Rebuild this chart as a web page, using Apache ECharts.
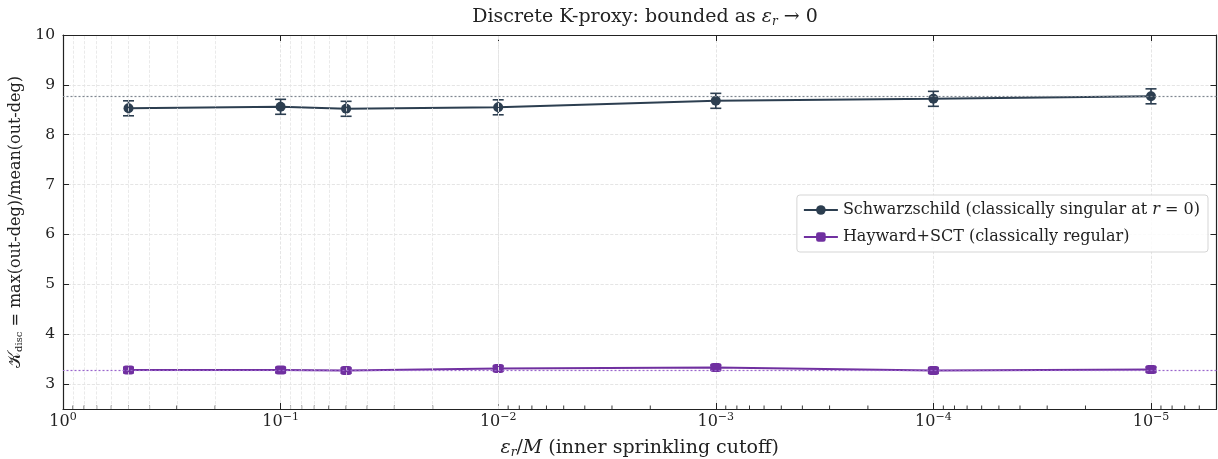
<!DOCTYPE html>
<html>
<head>
<meta charset="utf-8">
<script src="https://cdn.jsdelivr.net/npm/echarts@6/dist/echarts.min.js"></script>
<style>html,body{margin:0;padding:0;background:#fff;}#c{width:1218px;height:459px;}</style>
</head>
<body>
<div id="c"></div>
<script>
// ---- data ----
const epsValues = [0.5, 0.1, 0.05, 0.01, 0.001, 0.0001, 0.00001];
const schwMean = [8.53, 8.56, 8.52, 8.55, 8.68, 8.72, 8.77];
const schwErr  = [0.15, 0.15, 0.15, 0.15, 0.15, 0.15, 0.15];
const haywMean = [3.28, 3.28, 3.27, 3.31, 3.33, 3.27, 3.29];
const haywErr  = [0.05, 0.05, 0.05, 0.05, 0.05, 0.05, 0.05];
const schwRef = 8.78;
const haywRef = 3.28;
const xDecades = [-6, -5, -4, -3, -2, -1];
const minorMultipliers = [2, 3, 4, 5, 6, 7, 8, 9];
const xMin = 5e-6, xMax = 1;
const yMin = 2.5, yMax = 10;
const seriesNames = ['Schwarzschild (classically singular at r = 0)', 'Hayward+SCT (classically regular)'];

const SCH = '#2c3e50';
const HAY = '#7030a0';
const FONT = '"DejaVu Serif", "Liberation Serif", serif';

const minorVals = [];
xDecades.forEach(d => minorMultipliers.forEach(m => {
  const v = m * Math.pow(10, d);
  if (v > xMin * 1.0001 && v < xMax) minorVals.push(v);
}));

function fmtX(v) {
  const e = Math.log10(v);
  if (Math.abs(e - Math.round(e)) > 1e-6) return '';
  const r = Math.round(e);
  return '{b|10}{s|' + (r < 0 ? '−' + (-r) : String(r)) + '}';
}

function errData(mean, err) {
  return epsValues.map((x, i) => [x, mean[i] - err[i], mean[i] + err[i]]);
}
function errRender(color) {
  return function (params, api) {
    const x = api.value(0);
    const a = api.coord([x, api.value(1)]);
    const b = api.coord([x, api.value(2)]);
    const w = 5.5;
    const st = {stroke: color, lineWidth: 1.6};
    return {type: 'group', children: [
      {type: 'line', shape: {x1: a[0], y1: a[1], x2: b[0], y2: b[1]}, style: st},
      {type: 'line', shape: {x1: a[0] - w, y1: a[1], x2: a[0] + w, y2: a[1]}, style: st},
      {type: 'line', shape: {x1: b[0] - w, y1: b[1], x2: b[0] + w, y2: b[1]}, style: st}
    ]};
  };
}

const chart = echarts.init(document.getElementById('c'), null, {renderer: 'canvas'});
const axisLineStyle = {color: '#222', width: 1.2};
const option = {
  animation: false,
  backgroundColor: '#fff',
  title: {
    text: 'Discrete K-proxy: bounded as {i|ε}{s|r} → 0',
    left: 640, textAlign: 'center', top: 2,
    textStyle: {fontFamily: FONT, fontSize: 19, fontWeight: 'normal', color: '#222',
      rich: {i: {fontFamily: FONT, fontStyle: 'italic', fontSize: 19, color: '#222'},
             s: {fontFamily: FONT, fontStyle: 'italic', fontSize: 12, color: '#222', padding: [9, 0, 0, 0]}}}
  },
  grid: {left: 63, right: 1.5, top: 35, bottom: 50, containLabel: false, outerBoundsMode: 'none'},
  legend: {
    data: seriesNames,
    orient: 'vertical', right: 10, top: 195,
    itemWidth: 34, itemHeight: 12, itemGap: 11,
    padding: [7, 8, 7, 6],
    backgroundColor: 'rgba(255,255,255,0.85)', borderColor: '#d5d5d5', borderWidth: 1, borderRadius: 3,
    formatter: function (name) {
      return name.replace('at r = 0', 'at {i|r} = 0');
    },
    textStyle: {fontFamily: FONT, fontSize: 16, color: '#222',
      rich: {i: {fontFamily: FONT, fontStyle: 'italic', fontSize: 16, color: '#222'}}}
  },
  xAxis: [{
    type: 'log', logBase: 10, min: xMin, max: xMax, inverse: true,
    name: '{i|ε}{s|r}{n|/}{i|M}{n| (inner sprinkling cutoff)}',
    nameLocation: 'middle', nameGap: 29,
    nameTextStyle: {fontFamily: FONT, fontSize: 19, color: '#222',
      rich: {i: {fontFamily: FONT, fontStyle: 'italic', fontSize: 19, color: '#222'},
             s: {fontFamily: FONT, fontStyle: 'italic', fontSize: 12, color: '#222', padding: [9, 0, 0, 0]},
             n: {fontFamily: FONT, fontSize: 19, color: '#222'}}},
    axisLine: {lineStyle: axisLineStyle},
    axisTick: {inside: true, length: 6, lineStyle: {color: '#222', width: 1}},
    axisLabel: {formatter: fmtX, color: '#222', margin: 0, showMinLabel: false,
      rich: {b: {fontFamily: FONT, fontSize: 16, color: '#222', padding: [5, 0, 0, 0]},
             s: {fontFamily: FONT, fontSize: 11, color: '#222', padding: [0, 0, 5, 0]}}},
    splitLine: {show: true, lineStyle: {color: '#dedede', type: 'dashed', width: 0.8}}
  }, {
    type: 'log', logBase: 10, min: xMin, max: xMax, inverse: true, position: 'top',
    axisLine: {lineStyle: axisLineStyle},
    axisTick: {inside: true, length: 6, lineStyle: {color: '#222', width: 1}},
    axisLabel: {show: false}, splitLine: {show: false}
  }],
  yAxis: [{
    type: 'value', min: yMin, max: yMax, minInterval: 1, maxInterval: 1,
    name: '{k|𝒦}{s|disc}{n| = max(out-deg)/mean(out-deg)}',
    nameLocation: 'middle', nameGap: 32, nameRotate: 90,
    nameTextStyle: {fontFamily: FONT, fontSize: 16, color: '#222',
      rich: {k: {fontFamily: '"DejaVu Sans", "DejaVu Serif", serif', fontSize: 17, color: '#222'},
             s: {fontFamily: FONT, fontSize: 10, color: '#222', padding: [8, 0, 0, 0]},
             n: {fontFamily: FONT, fontSize: 16, color: '#222'}}},
    axisLine: {show: true, lineStyle: axisLineStyle},
    axisTick: {inside: true, length: 6, lineStyle: {color: '#222', width: 1}},
    axisLabel: {fontFamily: FONT, fontSize: 15.5, color: '#222', margin: 8, showMinLabel: false},
    splitLine: {show: true, lineStyle: {color: '#dedede', type: 'dashed', width: 0.8}}
  }, {
    type: 'value', min: yMin, max: yMax, minInterval: 1, maxInterval: 1, position: 'right',
    axisLine: {show: true, lineStyle: axisLineStyle},
    axisTick: {inside: true, length: 6, lineStyle: {color: '#222', width: 1}},
    axisLabel: {show: false}, splitLine: {show: false}
  }],
  series: [
    {
      type: 'custom', name: 'minor', xAxisIndex: 0, yAxisIndex: 0, silent: true, z: 1,
      data: minorVals.map(v => [v, yMin]),
      encode: {x: 0, y: 1},
      renderItem: function (params, api) {
        const p = api.coord([api.value(0), api.value(1)]);
        return {type: 'line', shape: {x1: p[0], y1: p[1], x2: p[0], y2: p[1] - 3.5}, style: {stroke: '#222', lineWidth: 0.9}};
      },
      markLine: {
        silent: true, symbol: 'none', label: {show: false},
        lineStyle: {color: '#e4e4e4', type: 'dashed', width: 0.8},
        data: minorVals.map(v => ({xAxis: v}))
      }
    },
    {
      type: 'custom', name: 'schwErr', silent: true, z: 3,
      data: errData(schwMean, schwErr), encode: {x: 0, y: [1, 2]},
      renderItem: errRender(SCH)
    },
    {
      type: 'custom', name: 'haywErr', silent: true, z: 3,
      data: errData(haywMean, haywErr), encode: {x: 0, y: [1, 2]},
      renderItem: errRender(HAY)
    },
    {
      type: 'line', name: seriesNames[0], z: 4,
      data: epsValues.map((x, i) => [x, schwMean[i]]),
      symbol: 'circle', symbolSize: 10,
      itemStyle: {color: SCH}, lineStyle: {color: SCH, width: 2},
      markLine: {silent: true, symbol: 'none', label: {show: false},
        lineStyle: {color: '#7f8690', type: [2, 2], width: 1.2},
        data: [{yAxis: schwRef}]}
    },
    {
      type: 'line', name: seriesNames[1], z: 4,
      data: epsValues.map((x, i) => [x, haywMean[i]]),
      symbol: 'roundRect', symbolSize: [11, 9],
      itemStyle: {color: HAY}, lineStyle: {color: HAY, width: 2},
      markLine: {silent: true, symbol: 'none', label: {show: false},
        lineStyle: {color: '#9a66cc', type: [2, 2], width: 1.2},
        data: [{yAxis: haywRef}]}
    }
  ]
};
chart.setOption(option);
</script>
</body>
</html>
